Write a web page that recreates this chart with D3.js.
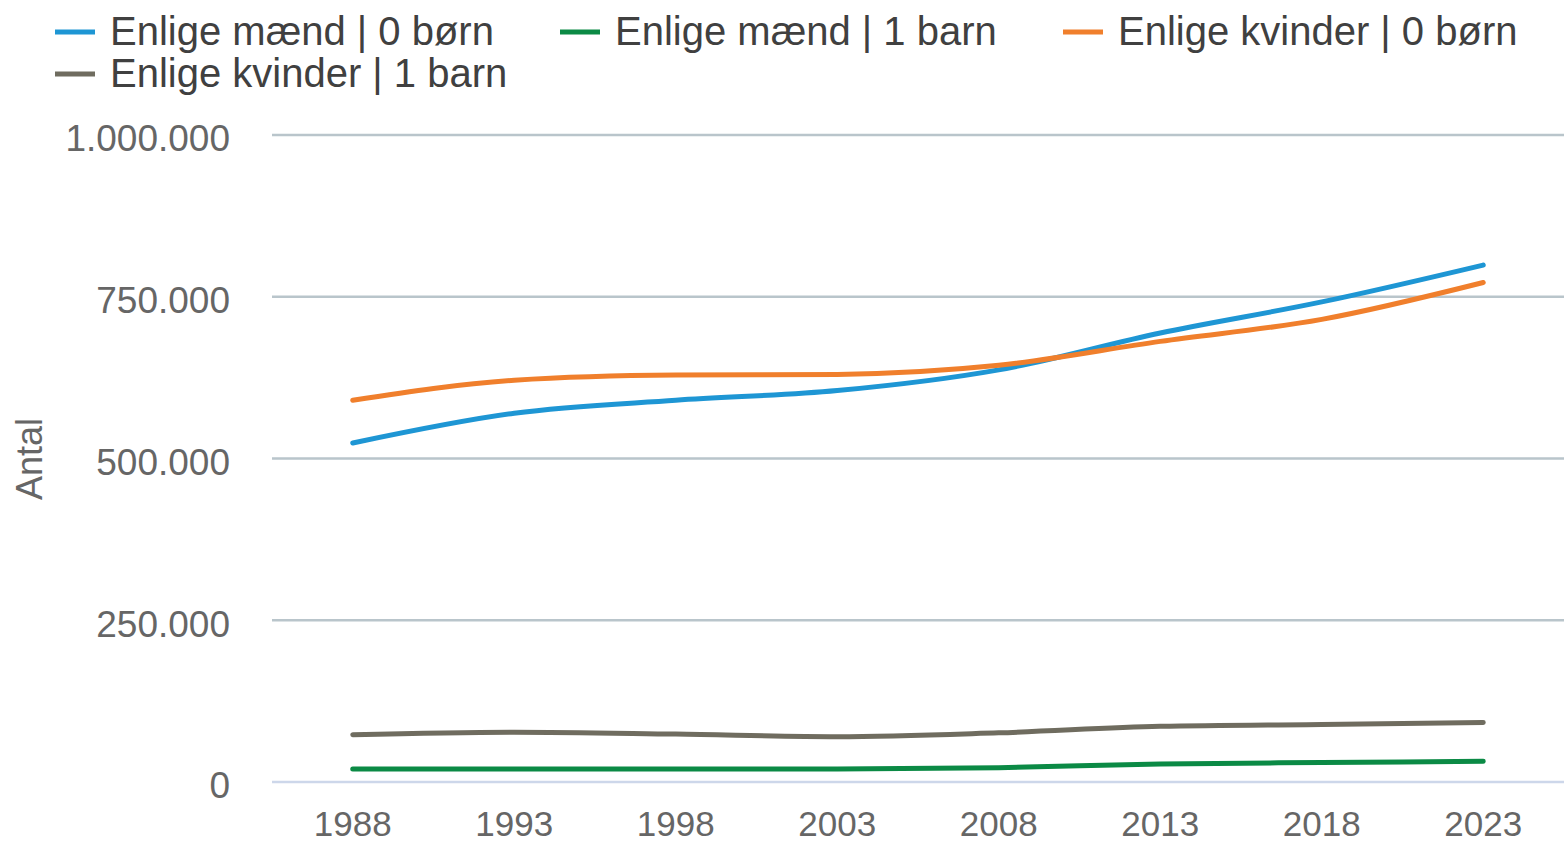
<!DOCTYPE html>
<html><head><meta charset="utf-8">
<script src="https://cdn.jsdelivr.net/npm/d3@7"></script>
<style>body{margin:0;background:#fff;}svg{display:block;font-family:"Liberation Sans",Arial,sans-serif;}</style>
</head><body><svg id="c" width="1564" height="844"></svg>
<script>
const years = ["1988","1993","1998","2003","2008","2013","2018","2023"];
const maendNul = [524000,570000,590000,605000,637000,694000,742000,799000];
const maendEt = [20000,20000,20000,20000,22000,28000,30000,32000];
const kvinderNul = [590000,621000,629000,630000,644000,681000,715000,772000];
const kvinderEt = [73000,77000,74000,70000,76000,86000,89000,92000];
const seriesNames = ["Enlige mænd | 0 børn","Enlige mænd | 1 barn","Enlige kvinder | 0 børn","Enlige kvinder | 1 barn"];
const seriesColors = ["#1e96d4","#0b8a45","#f07f2c","#6f6c5f"];
const yTicks = [0,250000,500000,750000,1000000];

(function(){
const series = [maendNul, maendEt, kvinderNul, kvinderEt].map((v,i)=>({name:seriesNames[i],color:seriesColors[i],values:v}));
const svg = d3.select("#c");
const pL = 272, pR = 1564, pT = 135, pB = 782;
const x = d3.scaleBand().domain(years).range([pL,pR]).paddingInner(0).paddingOuter(0);
const xc = d => x(d) + x.bandwidth()/2;
const y = d3.scaleLinear().domain([0,1000000]).range([pB, pT]);
const fmt = v => d3.format(",")(v).replace(/,/g,".");

svg.append("g").selectAll("line").data(yTicks).join("line")
  .attr("x1",pL).attr("x2",pR).attr("y1",d=>y(d)).attr("y2",d=>y(d))
  .attr("stroke",d=>d===0?"#cdd7ea":"#b9c5cb").attr("stroke-width",2.5);

svg.append("g").selectAll("text").data(yTicks).join("text")
  .attr("x",230).attr("y",d=>y(d)+3).attr("dy","0.36em").attr("text-anchor","end")
  .attr("font-size",37).attr("fill","#666666").text(fmt);

svg.append("g").selectAll("text").data(years).join("text")
  .attr("x",d=>xc(d)).attr("y",836).attr("text-anchor","middle")
  .attr("font-size",35).attr("fill","#666666").text(d=>d);

svg.append("text").attr("transform","translate(42,459) rotate(-90)")
  .attr("text-anchor","middle").attr("font-size",36).attr("fill","#666666").text("Antal");

const line = d3.line().x((d,i)=>xc(years[i])).y(d=>y(d)).curve(d3.curveMonotoneX);
svg.append("g").selectAll("path").data(series).join("path")
  .attr("d",d=>line(d.values)).attr("fill","none").attr("stroke",d=>d.color)
  .attr("stroke-width",5).attr("stroke-linecap","round").attr("stroke-linejoin","round");

const legPos = [[55,32],[560,32],[1063,32],[55,74]];
const lg = svg.append("g").selectAll("g").data(series).join("g")
  .attr("transform",(d,i)=>`translate(${legPos[i][0]},${legPos[i][1]})`);
lg.append("line").attr("x1",0).attr("x2",40).attr("y1",0).attr("y2",0)
  .attr("stroke",d=>d.color).attr("stroke-width",5);
lg.append("text").attr("x",55).attr("y",-1).attr("dy","0.36em")
  .attr("font-size",40).attr("fill","#404040").text(d=>d.name);
})();
</script></body></html>
